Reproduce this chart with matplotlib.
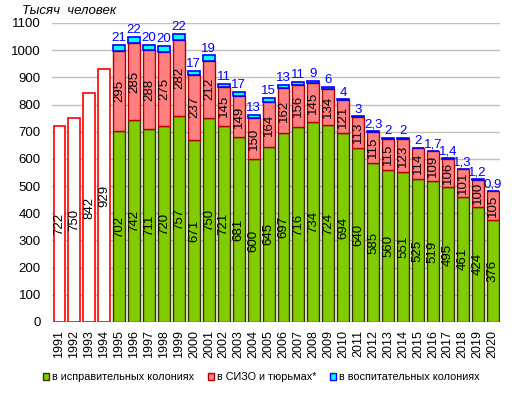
import matplotlib.pyplot as plt
from matplotlib.patches import Patch
import numpy as np

plt.rcParams['font.family'] = ['Liberation Sans', 'DejaVu Sans']

years = list(range(1991, 2021))
early_total = [722, 750, 842, 929]
colonies = [702, 742, 711, 720, 757, 671, 750, 721, 681, 600, 645, 697, 716,
            734, 724, 694, 640, 585, 560, 551, 525, 519, 495, 461, 424, 376]
sizo = [295, 285, 288, 275, 282, 237, 212, 145, 149, 150, 164, 162, 156,
        145, 134, 121, 113, 115, 115, 123, 114, 109, 106, 101, 100, 105]
juvenile = [21, 22, 20, 20, 22, 17, 19, 11, 17, 13, 15, 13, 11,
            9, 6, 4, 3, 2.3, 2, 2, 2, 1.7, 1.4, 1.3, 1.2, 0.9]
juv_labels = ["21", "22", "20", "20", "22", "17", "19", "11", "17", "13", "15",
              "13", "11", "9", "6", "4", "3", "2,3", "2", "2", "2", "1,7",
              "1,4", "1,3", "1,2", "0,9"]

green = "#80CC00"
pink = "#FF8080"
cyan = "#00FFFF"

fig = plt.figure(figsize=(5.12, 3.93), dpi=100)
ax = fig.add_axes([0.1016, 0.1807, 0.875, 0.7608])

x_early = np.arange(4)
x = np.arange(4, 30)
w = 0.8

ax.bar(x_early, early_total, w, color="white", edgecolor="#FF0000", linewidth=1.2, zorder=3)
for xi, v in zip(x_early, early_total):
    ax.text(xi, v / 2, str(v), rotation=90, rotation_mode="anchor",
            ha="center", va="center", fontsize=9.5, zorder=4)

col = np.array(colonies)
siz = np.array(sizo)
juv = np.array(juvenile)
ax.bar(x, col, w, color=green, edgecolor="#333300", linewidth=1, zorder=3)
ax.bar(x, siz, w, bottom=col, color=pink, edgecolor="#B00000", linewidth=1, zorder=3)
ax.bar(x, juv, w, bottom=col + siz, color=cyan, edgecolor="#0000FF", linewidth=1.2, zorder=3)

for i, xi in enumerate(x):
    ax.text(xi, col[i] / 2, str(col[i]), rotation=90, rotation_mode="anchor",
            ha="center", va="center", fontsize=9.5, zorder=4)
    ax.text(xi, col[i] + siz[i] / 2, str(siz[i]), rotation=90, rotation_mode="anchor",
            ha="center", va="center", fontsize=9.5, zorder=4)
    ax.text(xi, col[i] + siz[i] + juv[i] + 3, juv_labels[i], ha="center", va="bottom",
            fontsize=9.5, color="#0000FF", zorder=4)

ax.set_xlim(-0.5, 29.5)
ax.set_ylim(0, 1100)
ax.set_yticks(range(0, 1101, 100))
ax.tick_params(axis="y", length=0, labelsize=9.5, pad=8)
ax.set_xticks(range(30))
ax.set_xticklabels([str(y) for y in years], rotation=90, fontsize=9)
ax.tick_params(axis="x", length=0, pad=6)
ax.grid(axis="y", color="#C0C0C0", linewidth=1, zorder=0)
for s in ax.spines.values():
    s.set_visible(False)

fig.text(0.043, 0.972, "Тысяч  человек", fontsize=9.5, style="italic", va="center")

handles = [Patch(facecolor=green, edgecolor="#333300"),
           Patch(facecolor=pink, edgecolor="#B00000"),
           Patch(facecolor=cyan, edgecolor="#0000FF")]
labels = ["в исправительных колониях", "в СИЗО и тюрьмах*", "в воспитательных колониях"]
fig.legend(handles, labels, loc="center", bbox_to_anchor=(0.51, 0.04), ncol=3, frameon=False,
           fontsize=7.8, handlelength=0.6, handleheight=0.6, handletextpad=0.2, columnspacing=1.3)

fig.savefig("out.png", dpi=100)
